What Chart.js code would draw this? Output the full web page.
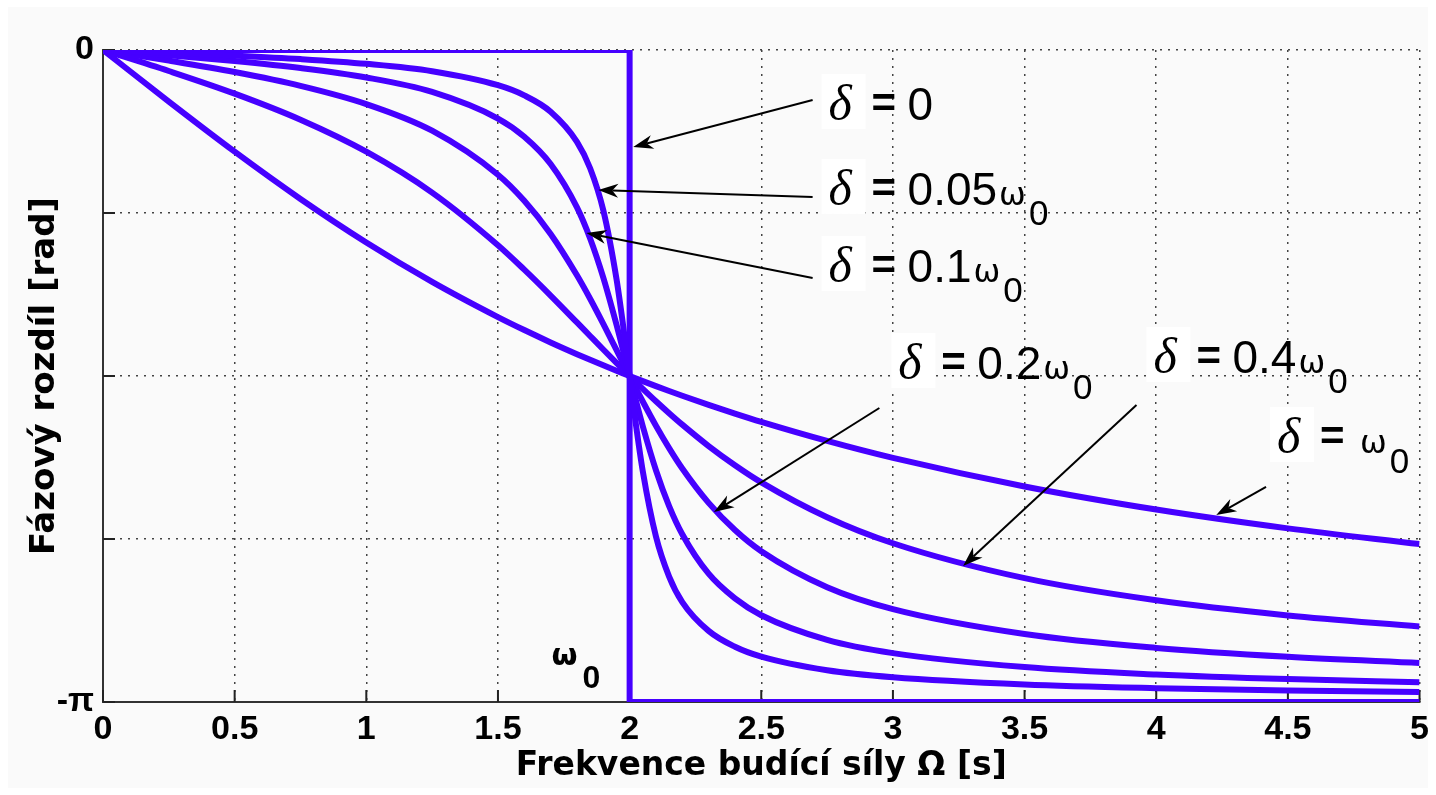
<!DOCTYPE html>
<html>
<head>
<meta charset="utf-8">
<script src="https://cdn.jsdelivr.net/npm/chart.js@4"></script>
<style>
  html, body { margin: 0; padding: 0; background: #fff; }
  canvas { display: block; }
</style>
</head>
<body>
<canvas id="phaseChart" width="1436" height="795"></canvas>
<script>
// driving frequency Omega (omega0 = 2)
const omega = [0, 0.25, 0.5, 0.75, 1, 1.25, 1.5, 1.6, 1.7, 1.8, 1.85, 1.9, 1.95, 1.975, 2,
               2.025, 2.05, 2.1, 2.15, 2.2, 2.3, 2.4, 2.5, 2.75, 3, 3.5, 4, 4.5, 5];

// phase difference [rad], one array per damping
const phaseD005 = [0, -0.0127, -0.0267, -0.0436, -0.0666, -0.1022, -0.1698, -0.2187, -0.2973, -0.4424, -0.5698, -0.7724, -1.1022, -1.3243, -1.5708,
                   -1.8143, -2.0297, -2.3441, -2.5370, -2.6599, -2.7989, -2.8753, -2.9229, -2.9884, -3.0222, -3.0570, -3.0750, -3.0863, -3.0940];
const phaseD01  = [0, -0.0254, -0.0533, -0.0871, -0.1326, -0.2023, -0.3303, -0.4182, -0.5496, -0.7584, -0.9081, -1.0968, -1.3228, -1.4457, -1.5708,
                   -1.6944, -1.8129, -2.0248, -2.1974, -2.3330, -2.5234, -2.6423, -2.7234, -2.8420, -2.9061, -2.9735, -3.0090, -3.0313, -3.0466];
const phaseD02  = [0, -0.0508, -0.1063, -0.1728, -0.2606, -0.3889, -0.6010, -0.7266, -0.8863, -1.0854, -1.1985, -1.3196, -1.4449, -1.5080, -1.5708,
                   -1.6328, -1.6936, -1.8102, -1.9181, -2.0164, -2.1822, -2.3128, -2.4150, -2.5884, -2.6941, -2.8141, -2.8810, -2.9236, -2.9534];
const phaseD04  = [0, -0.1013, -0.2102, -0.3359, -0.4900, -0.6871, -0.9407, -1.0584, -1.1832, -1.3128, -1.3781, -1.4432, -1.5076, -1.5394, -1.5708,
                   -1.6018, -1.6324, -1.6922, -1.7498, -1.8050, -1.9081, -2.0006, -2.0832, -2.2513, -2.3766, -2.5450, -2.6516, -2.7243, -2.7776];
const phaseD1   = [0, -0.2487, -0.4900, -0.7176, -0.9273, -1.1173, -1.2870, -1.3495, -1.4090, -1.4656, -1.4929, -1.5195, -1.5455, -1.5582, -1.5708,
                   -1.5832, -1.5955, -1.6196, -1.6431, -1.6660, -1.7101, -1.7521, -1.7921, -1.8838, -1.9656, -2.1031, -2.2143, -2.3050, -2.3806];

// undamped case: jump at omega0
const undampedX = [0, 2, 2, 5];
const undampedY = [0, 0, -Math.PI, -Math.PI];

// y ticks (every pi/4), only the ends are labelled
const yTickValues = [-Math.PI, -3 * Math.PI / 4, -Math.PI / 2, -Math.PI / 4, 0];
const yTickLabels = ['-π', '', '', '', '0'];

// annotations (data coordinates)
const labelCoef  = ['0', '0.05', '0.1', '0.2', '0.4', ''];
const labelOmega = [false, true, true, true, true, true];
const labelX     = [2.729, 2.729, 2.729, 2.994, 3.963, 4.432];
const labelY     = [-0.3373, -0.7468, -1.1179, -1.5853, -1.5563, -1.9418];
const arrowTail  = [[2.695, -0.2409], [2.695, -0.7083], [2.695, -1.0986], [2.9485, -1.7249], [3.925, -1.7105], [4.417, -2.1056]];
const arrowHead  = [[2.0136, -0.4674], [1.881, -0.6746], [1.8357, -0.8817], [2.3202, -2.2260], [3.2665, -2.4862], [4.228, -2.2405]];
const omegaMarkX = 1.703;
const omegaMarkY = -2.9633;

const lineColor = 'rgb(70, 0, 255)';

function toPoints(xs, ys) {
    return xs.map((x, i) => ({ x: x, y: ys[i] }));
}

function curve(ys) {
    return {
        data: toPoints(omega, ys),
        borderColor: lineColor,
        borderWidth: 6,
        pointRadius: 0,
        fill: false,
        cubicInterpolationMode: 'monotone',
    };
}

const background = {
    id: 'background',
    beforeDraw(chart) {
        const ctx = chart.ctx;
        ctx.save();
        ctx.fillStyle = '#ffffff';
        ctx.fillRect(0, 0, chart.width, chart.height);
        ctx.fillStyle = '#fafafa';
        ctx.fillRect(8, 7, chart.width - 16, chart.height - 14);
        ctx.restore();
    }
};

// matlab style ticks pointing into the plot
const inwardTicks = {
    id: 'inwardTicks',
    beforeDatasetsDraw(chart) {
        const { ctx, chartArea, scales: { x, y } } = chart;
        ctx.save();
        ctx.strokeStyle = '#222';
        ctx.lineWidth = 2;
        ctx.beginPath();
        x.ticks.forEach(t => {
            const px = x.getPixelForValue(t.value);
            ctx.moveTo(px, chartArea.bottom);
            ctx.lineTo(px, chartArea.bottom - 12);
        });
        y.ticks.forEach(t => {
            const py = y.getPixelForValue(t.value);
            ctx.moveTo(chartArea.left, py);
            ctx.lineTo(chartArea.left + 12, py);
        });
        ctx.stroke();
        ctx.restore();
    }
};

function drawArrow(ctx, x1, y1, x2, y2) {
    const ang = Math.atan2(y2 - y1, x2 - x1);
    const len = 20, half = 7;
    const bx = x2 - len * Math.cos(ang), by = y2 - len * Math.sin(ang);
    const nx = x2 - 0.7 * len * Math.cos(ang), ny = y2 - 0.7 * len * Math.sin(ang);
    ctx.beginPath();
    ctx.moveTo(x1, y1);
    ctx.lineTo(nx, ny);
    ctx.stroke();
    ctx.beginPath();
    ctx.moveTo(x2, y2);
    ctx.lineTo(bx - half * Math.sin(ang), by + half * Math.cos(ang));
    ctx.lineTo(nx, ny);
    ctx.lineTo(bx + half * Math.sin(ang), by - half * Math.cos(ang));
    ctx.closePath();
    ctx.fill();
}

const annotations = {
    id: 'annotations',
    afterDatasetsDraw(chart) {
        const { ctx, scales: { x, y } } = chart;
        ctx.save();
        ctx.strokeStyle = '#000';
        ctx.fillStyle = '#000';
        ctx.lineWidth = 2;
        arrowTail.forEach((t, i) => {
            const h = arrowHead[i];
            drawArrow(ctx, x.getPixelForValue(t[0]), y.getPixelForValue(t[1]),
                      x.getPixelForValue(h[0]), y.getPixelForValue(h[1]));
        });

        ctx.textAlign = 'left';
        ctx.textBaseline = 'alphabetic';
        labelCoef.forEach((coef, i) => {
            const bx = x.getPixelForValue(labelX[i]);
            const by = y.getPixelForValue(labelY[i]);
            ctx.fillStyle = '#fff';
            ctx.fillRect(bx, by - 46, 44, 55);
            ctx.fillStyle = '#000';
            ctx.font = 'italic 50px "Liberation Serif"';
            ctx.fillText('δ', bx + 7, by);
            ctx.font = 'bold 42px "Liberation Sans"';
            ctx.fillText('=', bx + 50, by - 3);
            let cx = bx + 90;
            if (coef) {
                cx = bx + 86;
                ctx.font = '46px "Liberation Sans"';
                ctx.fillText(coef, cx, by);
                cx += ctx.measureText(coef).width + 2;
            }
            if (labelOmega[i]) {
                ctx.font = '32px "DejaVu Sans"';
                ctx.fillText('ω', cx, by);
                cx += ctx.measureText('ω').width + 3;
                ctx.font = '35px "Liberation Sans"';
                ctx.fillText('0', cx, by + 20);
            }
        });

        // omega0 mark at the resonance
        const ox = x.getPixelForValue(omegaMarkX);
        const oy = y.getPixelForValue(omegaMarkY);
        ctx.font = 'bold 30px "DejaVu Sans"';
        ctx.fillText('ω', ox, oy);
        ctx.font = 'bold 32px "Liberation Sans"';
        ctx.fillText('0', ox + 31, oy + 23);
        ctx.restore();
    }
};

const ctx = document.getElementById('phaseChart').getContext('2d');

const datasets = [
    curve(phaseD005),
    curve(phaseD01),
    curve(phaseD02),
    curve(phaseD04),
    curve(phaseD1),
    {
        data: toPoints(undampedX, undampedY),
        borderColor: lineColor,
        borderWidth: 6,
        pointRadius: 0,
        fill: false,
        tension: 0,
        cubicInterpolationMode: 'default',
    },
];

new Chart(ctx, {
    type: 'line',
    data: { datasets: datasets },
    options: {
        responsive: false,
        animation: false,
        layout: { padding: { top: 50, right: 12, left: 0, bottom: 0 } },
        plugins: {
            legend: { display: false },
            tooltip: { enabled: false },
        },
        scales: {
            x: {
                type: 'linear',
                min: 0,
                max: 5,
                ticks: {
                    stepSize: 0.5,
                    padding: 7,
                    color: '#000',
                    font: { family: 'Liberation Sans', size: 34, weight: 'bold' },
                    maxRotation: 0,
                    callback: value => String(value),
                },
                grid: { color: '#444', lineWidth: 1.5, drawTicks: false },
                border: { display: true, color: '#333', width: 2, dash: [2, 6] },
                title: {
                    display: true,
                    text: 'Frekvence budící síly Ω [s]',
                    color: '#000',
                    font: { family: 'DejaVu Sans', size: 33, weight: 'bold' },
                    padding: { top: 0, bottom: 9 },
                },
                afterFit(scale) { scale.height = 93; },
            },
            y: {
                type: 'linear',
                min: -Math.PI,
                max: 0,
                afterBuildTicks(scale) {
                    scale.ticks = yTickValues.map(v => ({ value: v }));
                },
                ticks: {
                    padding: 9,
                    color: '#000',
                    font: { family: 'Liberation Sans', size: 34, weight: 'bold' },
                    callback: (value, index) => yTickLabels[index],
                },
                grid: { color: '#444', lineWidth: 1.5, drawTicks: false },
                border: { display: true, color: '#333', width: 2, dash: [2, 6] },
                title: {
                    display: true,
                    text: 'Fázový rozdíl [rad]',
                    color: '#000',
                    font: { family: 'DejaVu Sans', size: 34, weight: 'bold' },
                    padding: { top: 25, bottom: 0 },
                },
                afterFit(scale) { scale.width = 103; },
            },
        },
    },
    plugins: [background, inwardTicks, annotations],
});
</script>
</body>
</html>
